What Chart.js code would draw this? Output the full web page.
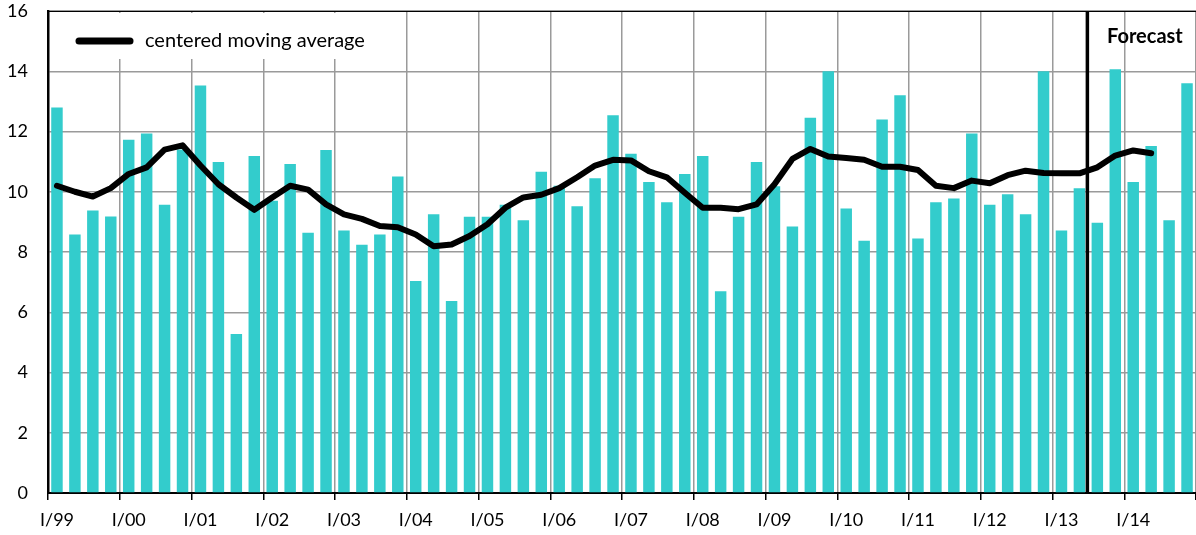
<!DOCTYPE html>
<html>
<head>
<meta charset="utf-8">
<script src="https://cdn.jsdelivr.net/npm/chart.js@4"></script>
<style>
  body { margin: 0; background: #fff; }
  #wrap { width: 1196px; height: 535px; position: relative; }
</style>
</head>
<body>
<div id="wrap"><canvas id="chart"></canvas></div>
<script>
// quarters I/99 .. IV/14
const years = ['99', '00', '01', '02', '03', '04', '05', '06', '07', '08', '09', '10', '11', '12', '13', '14'];
const quarters = ['I', 'II', 'III', 'IV'];
const yearTicks = ['I/99', 'I/00', 'I/01', 'I/02', 'I/03', 'I/04', 'I/05', 'I/06', 'I/07', 'I/08', 'I/09', 'I/10', 'I/11', 'I/12', 'I/13', 'I/14'];

const values = [
  12.8, 8.58, 9.38, 9.18, 11.73, 11.93, 9.57, 11.4,
  13.53, 10.99, 5.28, 11.19, 9.7, 10.92, 8.64, 11.39,
  8.71, 8.24, 8.58, 10.51, 7.04, 9.25, 6.37, 9.17,
  9.17, 9.57, 9.05, 10.66, 10.2, 9.52, 10.45, 12.54,
  11.26, 10.32, 9.65, 10.59, 11.19, 6.7, 9.17, 10.99,
  10.18, 8.85, 12.46, 14.0, 9.44, 8.37, 12.4, 13.2,
  8.45, 9.65, 9.78, 11.93, 9.57, 9.92, 9.25, 14.0,
  8.71, 10.12, 8.97, 14.07, 10.32, 11.52, 9.05, 13.6
];

const movingAvg = [
  10.2, 10.0, 9.84, 10.12, 10.59, 10.81, 11.4, 11.54,
  10.87, 10.25, 9.81, 9.4, 9.81, 10.2, 10.07, 9.58,
  9.25, 9.1, 8.86, 8.82, 8.58, 8.19, 8.25, 8.53,
  8.92, 9.47, 9.81, 9.9, 10.12, 10.48, 10.87, 11.06,
  11.04, 10.68, 10.48, 9.97, 9.47, 9.47, 9.42, 9.58,
  10.25, 11.09, 11.42, 11.17, 11.12, 11.06, 10.83, 10.83,
  10.72, 10.2, 10.12, 10.37, 10.28, 10.55, 10.7, 10.62,
  10.61, 10.61, 10.81, 11.2, 11.37, 11.28, null, null
];

const forecastStart = 58; // first forecast quarter (III/13)

const labels = [];
years.forEach(y => quarters.forEach(q => labels.push(q + '/' + y)));

const FONT = 'Lato, "Open Sans", sans-serif';

const overlay = {
  id: 'overlay',
  afterDatasetsDraw(chart) {
    const ctx = chart.ctx;
    const area = chart.chartArea;
    const xs = chart.scales.x2;
    ctx.save();
    // top border
    ctx.strokeStyle = '#000';
    ctx.lineWidth = 1;
    ctx.beginPath();
    ctx.moveTo(area.left, area.top + 0.5);
    ctx.lineTo(area.right, area.top + 0.5);
    ctx.stroke();

    // forecast divider
    const fx = xs.getPixelForValue(forecastStart) - 1;
    ctx.lineWidth = 3.5;
    ctx.beginPath();
    ctx.moveTo(fx, area.top);
    ctx.lineTo(fx, area.bottom);
    ctx.stroke();

    ctx.fillStyle = '#000';
    ctx.font = 'bold 20px ' + FONT;
    ctx.textBaseline = 'middle';
    ctx.textAlign = 'left';
    ctx.fillText('Forecast', 1107, 37);

    // legend box
    ctx.fillStyle = '#fff';
    ctx.fillRect(area.left + 2, area.top + 2, 326, 46);
    ctx.strokeStyle = '#000';
    ctx.lineWidth = 7;
    ctx.lineCap = 'round';
    ctx.beginPath();
    ctx.moveTo(79, 41);
    ctx.lineTo(130, 41);
    ctx.stroke();
    ctx.fillStyle = '#000';
    ctx.font = '20px ' + FONT;
    ctx.fillText('centered moving average', 145, 41);
    ctx.restore();
  }
};

new Chart(document.getElementById('chart'), {
  type: 'bar',
  data: {
    labels: labels,
    datasets: [
      {
        type: 'line',
        label: 'centered moving average',
        data: movingAvg,
        borderColor: '#000',
        borderWidth: 6,
        pointRadius: 0,
        tension: 0,
        borderCapStyle: 'round',
        borderJoinStyle: 'round',
        spanGaps: false,
        order: 0
      },
      {
        label: 'values',
        data: values,
        backgroundColor: '#33CCCC',
        barPercentage: 0.64,
        categoryPercentage: 1,
        order: 1
      }
    ]
  },
  options: {
    responsive: true,
    maintainAspectRatio: false,
    animation: false,
    layout: { autoPadding: false, padding: { left: 0, top: 4, right: 0, bottom: 0 } },
    plugins: {
      legend: { display: false },
      tooltip: { enabled: false }
    },
    scales: {
      x: {
        display: false,
        offset: true
      },
      x2: {
        type: 'linear',
        position: 'bottom',
        min: 0,
        max: 64,
        offset: false,
        afterBuildTicks: axis => {
          axis.ticks = [];
          for (let v = 0; v <= 64; v += 4) axis.ticks.push({ value: v });
        },
        afterFit: s => {
          s.height = 42;
          s.paddingLeft = 0;
          s.paddingRight = 0;
        },
        grid: {
          offset: false,
          color: '#9a9a9a',
          lineWidth: 1.5,
          tickLength: 7,
          tickColor: '#000',
          tickWidth: 1.5
        },
        border: { color: '#000', width: 2 },
        ticks: {
          autoSkip: false,
          maxRotation: 0,
          padding: 9,
          labelOffset: 9,
          color: '#000',
          font: { family: FONT, size: 18 },
          callback: v => (v / 4 < yearTicks.length ? yearTicks[v / 4] : '')
        }
      },
      y: {
        min: 0,
        max: 16,
        afterFit: s => {
          s.width = 48;
          s.paddingTop = 11;
          s.paddingBottom = 0;
        },
        ticks: {
          stepSize: 2,
          padding: 20,
          color: '#000',
          font: { family: FONT, size: 18 }
        },
        grid: {
          color: '#9a9a9a',
          lineWidth: 1.5,
          drawTicks: false
        },
        border: { color: '#000', width: 2.5 }
      }
    }
  },
  plugins: [overlay]
});
</script>
</body>
</html>
